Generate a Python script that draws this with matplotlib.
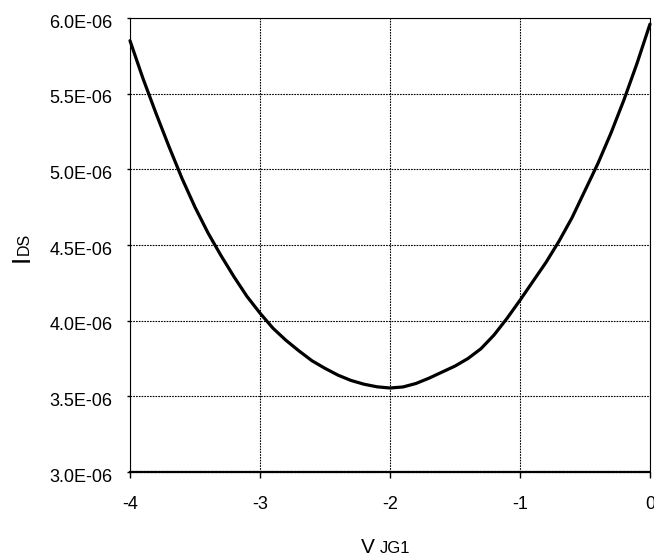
import matplotlib
matplotlib.use("Agg")
import matplotlib.pyplot as plt
from matplotlib.ticker import FixedLocator, FuncFormatter
from matplotlib.transforms import ScaledTranslation

plt.rcParams['font.family'] = ['Liberation Sans', 'DejaVu Sans']
plt.rcParams['axes.unicode_minus'] = False

# Data (V_JG1 in V, I_DS in A)
vjg1 = [-4.0, -3.9, -3.8, -3.7, -3.6, -3.5, -3.4, -3.3, -3.2, -3.1, -3.0,
        -2.9, -2.8, -2.7, -2.6, -2.5, -2.4, -2.3, -2.2, -2.1, -2.0,
        -1.9, -1.8, -1.7, -1.6, -1.5, -1.4, -1.3, -1.2, -1.1, -1.0,
        -0.9, -0.8, -0.7, -0.6, -0.5, -0.4, -0.3, -0.2, -0.1, 0.0]
ids_e6 = [5.85, 5.60, 5.37, 5.15, 4.94, 4.75, 4.58, 4.43, 4.29, 4.16, 4.05,
          3.95, 3.87, 3.80, 3.735, 3.685, 3.64, 3.605, 3.58, 3.563, 3.555,
          3.562, 3.585, 3.62, 3.66, 3.70, 3.75, 3.815, 3.905, 4.015, 4.135,
          4.26, 4.385, 4.525, 4.68, 4.86, 5.04, 5.24, 5.46, 5.70, 5.96]
ids = [v * 1e-6 for v in ids_e6]

x_ticks = [-4, -3, -2, -1, 0]
y_ticks = [3.0e-6, 3.5e-6, 4.0e-6, 4.5e-6, 5.0e-6, 5.5e-6, 6.0e-6]

W, H = 654, 556
fig = plt.figure(figsize=(W / 100, H / 100), dpi=100)
ax = fig.add_axes([130 / W, 1 - 472 / H, (650 - 130) / W, (472 - 18) / H])

ax.plot(vjg1, ids, color='black', linewidth=2.3, clip_on=False, zorder=3,
        solid_joinstyle='round', solid_capstyle='round')

ax.set_xlim(-4, 0)
ax.set_ylim(3.0e-6, 6.0e-6)
ax.xaxis.set_major_locator(FixedLocator(x_ticks))
ax.yaxis.set_major_locator(FixedLocator(y_ticks))
ax.xaxis.set_major_formatter(FuncFormatter(lambda v, p: "%d" % round(v)))
ax.yaxis.set_major_formatter(FuncFormatter(lambda v, p: "%.1E" % v))

ax.grid(True, color='black', linestyle=(0, (1.5, 1)), linewidth=0.8)
ax.set_axisbelow(True)
for side in ['top', 'left', 'right']:
    ax.spines[side].set_linestyle((0, (1.5, 1)))
    ax.spines[side].set_linewidth(0.8)
ax.spines['bottom'].set_linestyle((0, (1, 0.7)))
ax.spines['bottom'].set_linewidth(1.6)

ax.tick_params(axis='x', direction='out', length=4, width=1, pad=13,
               labelsize=13, colors='black')
ax.tick_params(axis='y', direction='out', length=2, width=1, pad=10.5,
               labelsize=13, colors='black')
for lab in ax.get_yticklabels():
    lab.set_transform(lab.get_transform() + ScaledTranslation(0, -3 / 100, fig.dpi_scale_trans))

# Y label: I_DS (rotated)
fig.text(29 / W, 1 - 258 / H, "I", rotation=90, rotation_mode='anchor',
         ha='center', va='baseline', fontsize=19)
fig.text(29 / W, 1 - 255 / H, "DS", rotation=90, rotation_mode='anchor',
         ha='left', va='baseline', fontsize=11.5)

# X label: V_JG1
fig.text(361 / W, 1 - 553 / H, "V", ha='left', va='baseline', fontsize=15)
fig.text(380 / W, 1 - 553 / H, "JG1", ha='left', va='baseline', fontsize=12)

fig.savefig("out.png", dpi=100)
